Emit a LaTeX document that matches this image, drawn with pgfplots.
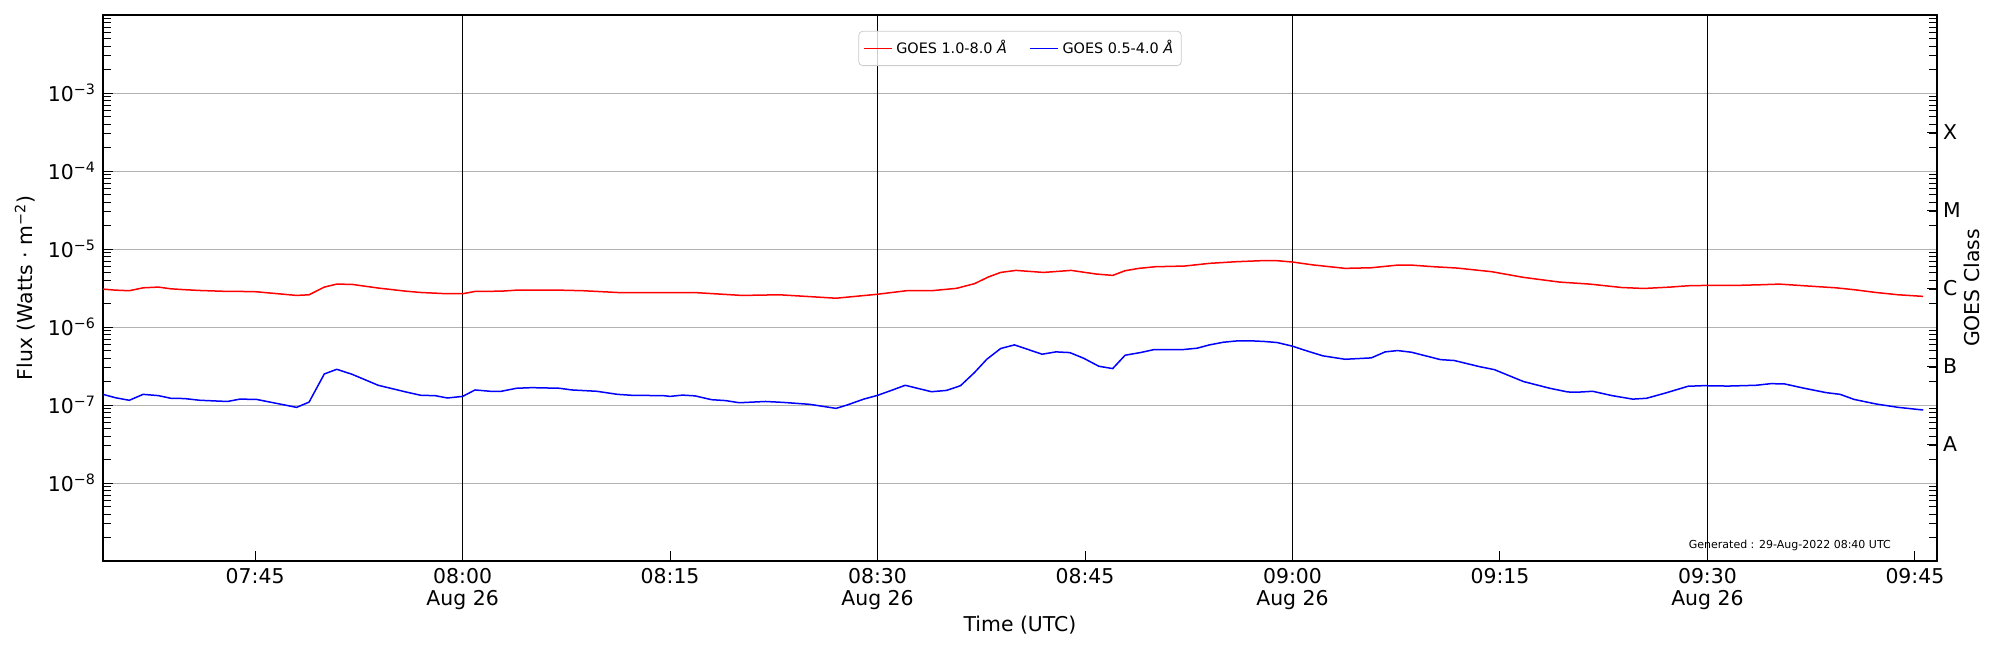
\documentclass[border=0pt]{standalone}
\usepackage{fontspec}
\setmainfont{DejaVu Sans}
\usepackage{pgfplots}
\usepackage{pgfplotstable}
\pgfplotsset{compat=1.18}

% time in minutes after 07:00 UTC, flux in W m^-2
\pgfplotstableread{
t flux
34.0 3.06e-6
34.9 2.97e-6
35.9 2.92e-6
36.9 3.18e-6
38.0 3.25e-6
38.9 3.09e-6
39.9 3.01e-6
41.0 2.94e-6
43.0 2.86e-6
43.9 2.86e-6
45.1 2.83e-6
48.0 2.54e-6
48.9 2.59e-6
50.0 3.25e-6
50.9 3.55e-6
52.0 3.52e-6
53.9 3.16e-6
55.9 2.88e-6
57.0 2.77e-6
58.9 2.67e-6
60.0 2.67e-6
60.9 2.86e-6
62.8 2.88e-6
63.9 2.97e-6
67.0 2.97e-6
68.7 2.92e-6
71.2 2.77e-6
75.8 2.75e-6
77.0 2.75e-6
80.2 2.54e-6
82.9 2.59e-6
87.0 2.34e-6
89.9 2.62e-6
92.1 2.92e-6
93.9 2.92e-6
95.7 3.13e-6
97.0 3.59e-6
98.0 4.37e-6
98.9 5.01e-6
100.0 5.32e-6
102.0 5.01e-6
104.0 5.32e-6
105.8 4.78e-6
107.0 4.59e-6
107.9 5.27e-6
108.9 5.65e-6
110.1 5.93e-6
112.2 6.05e-6
114.0 6.55e-6
115.9 6.87e-6
117.7 7.08e-6
118.9 7.08e-6
120.0 6.81e-6
121.5 6.25e-6
123.8 5.65e-6
125.7 5.75e-6
127.6 6.22e-6
128.6 6.22e-6
130.2 5.93e-6
131.9 5.70e-6
134.4 5.12e-6
136.7 4.33e-6
139.3 3.77e-6
141.5 3.55e-6
143.8 3.21e-6
145.4 3.12e-6
147.3 3.25e-6
148.6 3.38e-6
149.7 3.41e-6
151.9 3.41e-6
153.8 3.48e-6
155.2 3.55e-6
157.0 3.38e-6
159.3 3.18e-6
160.6 3.01e-6
162.2 2.77e-6
163.8 2.59e-6
165.6 2.47e-6
}\longch

\pgfplotstableread{
t flux
34.0 1.37e-7
34.9 1.24e-7
35.9 1.15e-7
36.9 1.37e-7
38.0 1.32e-7
38.9 1.22e-7
39.9 1.21e-7
41.0 1.15e-7
43.0 1.11e-7
43.9 1.19e-7
45.1 1.18e-7
48.0 9.33e-8
48.9 1.09e-7
50.0 2.50e-7
50.9 2.87e-7
52.0 2.48e-7
53.9 1.79e-7
55.9 1.47e-7
57.0 1.33e-7
58.0 1.32e-7
58.9 1.23e-7
60.0 1.29e-7
60.9 1.56e-7
62.0 1.50e-7
62.8 1.50e-7
63.9 1.64e-7
65.0 1.67e-7
67.0 1.64e-7
67.9 1.56e-7
69.7 1.50e-7
71.2 1.37e-7
72.3 1.33e-7
74.5 1.32e-7
75.0 1.29e-7
75.9 1.34e-7
76.8 1.31e-7
78.0 1.17e-7
79.0 1.14e-7
80.0 1.07e-7
81.9 1.11e-7
83.2 1.08e-7
85.1 1.02e-7
87.0 9.06e-8
87.8 1.00e-7
89.0 1.19e-7
90.0 1.33e-7
91.0 1.54e-7
92.0 1.79e-7
93.0 1.62e-7
93.9 1.48e-7
95.0 1.54e-7
96.0 1.77e-7
97.0 2.60e-7
97.9 3.86e-7
98.9 5.30e-7
99.9 5.90e-7
100.9 5.14e-7
101.9 4.48e-7
102.9 4.80e-7
103.9 4.70e-7
104.9 3.98e-7
106.0 3.14e-7
107.0 2.93e-7
107.9 4.35e-7
109.0 4.70e-7
110.0 5.14e-7
112.1 5.14e-7
113.1 5.35e-7
114.0 5.90e-7
115.0 6.38e-7
116.0 6.64e-7
117.1 6.64e-7
118.0 6.52e-7
118.9 6.32e-7
120.0 5.68e-7
121.1 4.90e-7
122.2 4.27e-7
123.8 3.86e-7
125.7 4.02e-7
126.7 4.80e-7
127.6 4.99e-7
128.6 4.75e-7
130.7 3.82e-7
131.7 3.72e-7
133.5 3.11e-7
134.6 2.84e-7
136.7 2.00e-7
138.6 1.64e-7
139.9 1.47e-7
140.6 1.46e-7
141.7 1.50e-7
143.1 1.32e-7
144.6 1.19e-7
145.6 1.22e-7
147.0 1.43e-7
148.6 1.74e-7
149.7 1.77e-7
151.5 1.75e-7
153.5 1.79e-7
154.6 1.88e-7
155.6 1.86e-7
157.0 1.64e-7
158.6 1.44e-7
159.6 1.37e-7
160.6 1.18e-7
162.2 1.03e-7
163.8 9.33e-8
165.6 8.63e-8
}\shortch

\def\minorlist{2e-9,3e-9,4e-9,5e-9,6e-9,7e-9,8e-9,9e-9,%
2e-8,3e-8,4e-8,5e-8,6e-8,7e-8,8e-8,9e-8,%
2e-7,3e-7,4e-7,5e-7,6e-7,7e-7,8e-7,9e-7,%
2e-6,3e-6,4e-6,5e-6,6e-6,7e-6,8e-6,9e-6,%
2e-5,3e-5,4e-5,5e-5,6e-5,7e-5,8e-5,9e-5,%
2e-4,3e-4,4e-4,5e-4,6e-4,7e-4,8e-4,9e-4,%
2e-3,3e-3,4e-3,5e-3,6e-3,7e-3,8e-3,9e-3}

\newcommand{\tickfont}{\fontsize{10.2}{11}\selectfont}

\begin{document}
\begin{tikzpicture}
\path[use as bounding box] (-51.5pt,-44.5pt) rectangle (948.5pt,280.5pt);
\begin{axis}[
  scale only axis, width=917pt, height=273pt,
  ymode=log, ymin=1e-9, ymax=1e-2,
  xmin=34, xmax=166.6,
  xtick={45,60,75,90,105,120,135,150,165},
  xticklabels={07:45,{08:00\\Aug 26},08:15,{08:30\\Aug 26},08:45,{09:00\\Aug 26},09:15,{09:30\\Aug 26},09:45},
  xtick pos=bottom, ytick pos=left,
  ytick={1e-8,1e-7,1e-6,1e-5,1e-4,1e-3},
  yticklabels={10\textsuperscript{−8},10\textsuperscript{−7},10\textsuperscript{−6},10\textsuperscript{−5},10\textsuperscript{−4},10\textsuperscript{−3}},
  minor ytick/.expanded={\minorlist},
  tick align=inside,
  major tick length=5pt, minor tick length=4pt,
  every tick/.style={black, line width=0.5pt},
  ymajorgrids, major grid style={color=black!30, line width=0.5pt},
  extra x ticks={60,90,120,150}, extra x tick labels={},
  extra x tick style={grid=major, major grid style={black, line width=0.65pt}},
  axis line style={line width=0.8pt},
  ticklabel style={font=\tickfont},
  xticklabel style={align=center},
  yticklabel style={xshift=0pt},
  label style={font=\tickfont},
  xlabel={Time (UTC)},
  xlabel style={at={(axis description cs:0.5,-0.117)}, anchor=center},
  ylabel={Flux (Watts · m\textsuperscript{−2})},
  ylabel style={at={(axis description cs:-0.0425,0.5)}, anchor=center},
  legend columns=2,
  legend style={at={(0.5,0.971)}, anchor=north, draw=black!20, rounded corners=2pt,
    fill=white, fill opacity=0.8, text opacity=1, font=\fontsize{7.2}{8.5}\selectfont,
    inner xsep=2pt, inner ysep=2.5pt,
    /tikz/every even column/.append style={column sep=9pt}},
  legend image code/.code={\draw[#1] (0pt,0pt) -- (14pt,0pt);},
]
\addplot[red, line width=0.75pt] table[x=t, y=flux] {\longch};
\addlegendentry{GOES 1.0-8.0 \textit{Å}}
\addplot[blue, line width=0.75pt] table[x=t, y=flux] {\shortch};
\addlegendentry{GOES 0.5-4.0 \textit{Å}}
\node[anchor=east, font=\fontsize{5.5}{6.6}\selectfont, inner sep=0pt] at (rel axis cs:0.975,0.029) {Generated : 29-Aug-2022 08:40 UTC};
\end{axis}
\begin{axis}[
  scale only axis, width=917pt, height=273pt,
  ymode=log, ymin=1e-9, ymax=1e-2,
  xmin=34, xmax=166.6,
  clip=false,
  hide x axis,
  ytick pos=right, yticklabel pos=right,
  axis line style={draw=none},
  ytick={3.162e-8,3.162e-7,3.162e-6,3.162e-5,3.162e-4},
  yticklabels={A,B,C,M,X},
  minor ytick/.expanded={\minorlist},
  tick align=inside,
  major tick length=5pt, minor tick length=4pt,
  every tick/.style={black, line width=0.5pt},
  ticklabel style={font=\tickfont},
  yticklabel style={anchor=west, xshift=-0.5pt},
]
\addplot[draw=none] coordinates {(34,1e-8) (166,1e-8)};
\node[rotate=90, font=\tickfont, anchor=center, inner sep=0pt] at (rel axis cs:1.0191,0.5) {GOES Class};
\end{axis}
\end{tikzpicture}
\end{document}
